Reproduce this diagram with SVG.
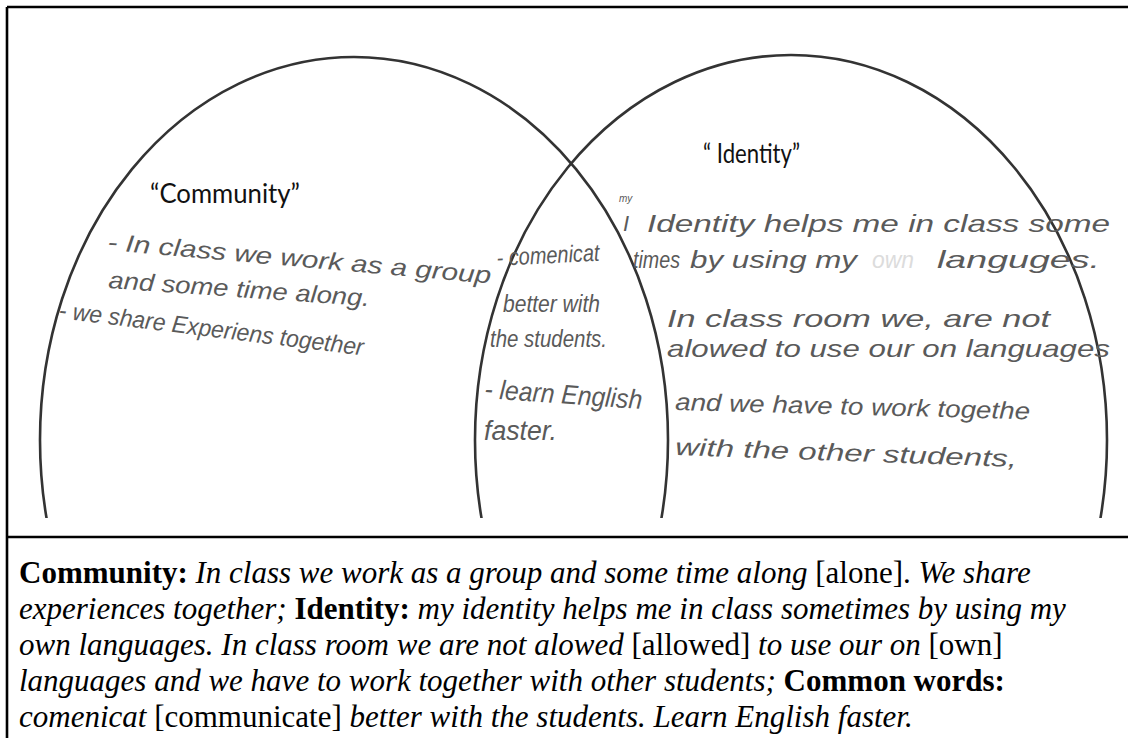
<svg xmlns="http://www.w3.org/2000/svg" width="1128" height="738" viewBox="0 0 1128 738">
<defs>
<style>
.frame{stroke:#000;stroke-width:2.6;fill:none}
.circle{stroke:#333;stroke-width:2.6;fill:none}
.label{font-family:Lato,"Open Sans",sans-serif;font-size:26px;fill:#111}
.hand{font-family:"Liberation Sans",Arial,sans-serif;font-style:italic;font-size:24px;fill:#5a5a5a}
.faded{fill:#dcdcdc}
.cap{font-family:"Liberation Serif","Times New Roman",serif;font-size:31px;fill:#000}
.b{font-weight:bold;font-style:normal}
.i{font-style:italic}
.r{font-style:normal}
</style>
<clipPath id="clipTop"><rect x="0" y="0" width="1128" height="518"/></clipPath>
</defs>
<rect x="0" y="0" width="1128" height="738" fill="#fff"/>
<g id="frame">
<line class="frame" x1="7" y1="7" x2="1128" y2="7"/>
<line class="frame" x1="7" y1="7" x2="7" y2="738"/>
<line class="frame" x1="7" y1="537" x2="1128" y2="537"/>
</g>
<g id="connectors"></g>
<g id="community">
<ellipse class="circle" clip-path="url(#clipTop)" cx="354" cy="440" rx="314" ry="383"/>
<text class="label" x="150" y="203" textLength="150" lengthAdjust="spacingAndGlyphs">“Community”</text>
<text class="hand" x="107" y="250" textLength="385" lengthAdjust="spacingAndGlyphs" transform="rotate(5 107 250)">- In class we work as a group</text>
<text class="hand" x="108" y="288" textLength="262" lengthAdjust="spacingAndGlyphs" transform="rotate(4 108 288)">and some time along.</text>
<text class="hand" x="58" y="318" textLength="307" lengthAdjust="spacingAndGlyphs" transform="rotate(7 58 318)">- we share Experiens together</text>
</g>
<g id="identity">
<ellipse class="circle" clip-path="url(#clipTop)" cx="791" cy="440" rx="316" ry="385"/>
<text class="label" x="703" y="163" textLength="97" lengthAdjust="spacingAndGlyphs">“ Identity”</text>
<text class="hand" x="619" y="202" style="font-size:10px">my</text>
<text class="hand" x="623" y="231" style="font-size:22px">I</text>
<text class="hand" x="647" y="232" textLength="463" lengthAdjust="spacingAndGlyphs">Identity helps me in class some</text>
<text class="hand" x="633" y="268" textLength="47" lengthAdjust="spacingAndGlyphs">times</text>
<text class="hand" x="690" y="268" textLength="167" lengthAdjust="spacingAndGlyphs">by using my</text>
<text class="hand faded" x="872" y="268" textLength="42" lengthAdjust="spacingAndGlyphs">own</text>
<text class="hand" x="937" y="268" textLength="163" lengthAdjust="spacingAndGlyphs">languges.</text>
<text class="hand" x="667" y="327" textLength="383" lengthAdjust="spacingAndGlyphs">In class room we, are not</text>
<text class="hand" x="667" y="357" textLength="443" lengthAdjust="spacingAndGlyphs">alowed to use our on languages</text>
<text class="hand" x="675" y="410" textLength="355" lengthAdjust="spacingAndGlyphs" transform="rotate(1.5 675 410)">and we have to work togethe</text>
<text class="hand" x="675" y="455" textLength="342" lengthAdjust="spacingAndGlyphs" transform="rotate(2 675 455)">with the other students,</text>
</g>
<g id="common">
<text class="hand" x="497" y="266" textLength="103" lengthAdjust="spacingAndGlyphs" transform="rotate(-3 497 266)">- comenicat</text>
<text class="hand" x="503" y="312" textLength="97" lengthAdjust="spacingAndGlyphs">better with</text>
<text class="hand" x="490" y="347" textLength="117" lengthAdjust="spacingAndGlyphs">the students.</text>
<text class="hand" x="484" y="398" textLength="158" lengthAdjust="spacingAndGlyphs" style="font-size:27px" transform="rotate(4 484 398)">- learn English</text>
<text class="hand" x="484" y="440" textLength="73" lengthAdjust="spacingAndGlyphs" style="font-size:27px">faster.</text>
</g>
<g id="caption">
<text class="cap" x="19" y="583"><tspan class="b">Community:</tspan> <tspan class="i">In class we work as a group and some time along</tspan> <tspan class="r">[alone].</tspan> <tspan class="i">We share</tspan></text>
<text class="cap" x="19" y="619"><tspan class="i">experiences together;</tspan> <tspan class="b">Identity:</tspan> <tspan class="i">my identity helps me in class sometimes by using my</tspan></text>
<text class="cap" x="19" y="655"><tspan class="i">own languages. In class room we are not alowed</tspan> <tspan class="r">[allowed]</tspan> <tspan class="i">to use our on</tspan> <tspan class="r">[own]</tspan></text>
<text class="cap" x="19" y="691"><tspan class="i">languages and we have to work together with other students;</tspan> <tspan class="b">Common words:</tspan></text>
<text class="cap" x="19" y="727"><tspan class="i">comenicat</tspan> <tspan class="r">[communicate]</tspan> <tspan class="i">better with the students. Learn English faster.</tspan></text>
</g>
</svg>
